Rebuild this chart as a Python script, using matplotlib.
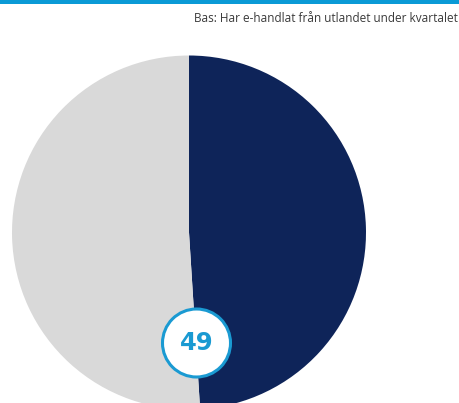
import matplotlib
matplotlib.use("Agg")
import matplotlib.pyplot as plt
from matplotlib.patches import Circle, Rectangle

# data
labels = ["Ja", "Nej"]
values = [49, 51]
colors = ["#0e2459", "#d9d9d9"]
subtitle = "Bas: Har e-handlat från utlandet under kvartalet"
shown_value = "49"

W, H = 460, 403
fig = plt.figure(figsize=(W / 100, H / 100), dpi=100)
ax = fig.add_axes([0, 0, 1, 1])

# pie, pixel coordinates with y pointing up
ax.pie(values, colors=colors, startangle=90, counterclock=False,
       center=(189, H - 232.5), radius=177, frame=True)

# top accent bar
ax.add_patch(Rectangle((0, H - 4), W, 4, color="#0a9ad6", lw=0, zorder=5))

ax.text(458, H - 18.5, subtitle, ha="right", va="center", fontsize=8.5,
        color="#3a3a3a", family="Open Sans")

# value badge
ax.add_patch(Circle((196.5, H - 343), 34, facecolor="white",
                    edgecolor="#1a9ad2", lw=2.2, zorder=6))
ax.text(196.5, H - 343, shown_value, ha="center", va="center", fontsize=17.5,
        fontweight="bold", color="#1a9ad2", zorder=7, family="DejaVu Sans")

ax.set_xlim(0, W)
ax.set_ylim(0, H)
ax.set_aspect("auto")
ax.axis("off")

fig.savefig("out.png", dpi=100)
